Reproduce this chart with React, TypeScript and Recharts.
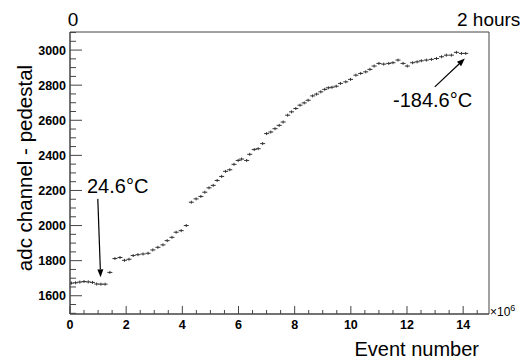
import React from 'react';
import { ScatterChart, Scatter, XAxis, YAxis, ReferenceArea, ReferenceLine } from 'recharts';

// event number in units of 1e6
const eventMillions = [
  0.05, 0.2, 0.35, 0.5, 0.65, 0.8, 0.95, 1.1, 1.25, 1.42, 1.6, 1.78, 1.94, 2.1, 2.25, 2.42, 2.6, 2.78, 2.95,
  3.13, 3.31, 3.46, 3.63, 3.78, 3.96, 4.14, 4.32, 4.49, 4.66, 4.8, 4.95, 5.1, 5.24, 5.4, 5.54, 5.69, 5.84,
  5.99, 6.11, 6.29, 6.4, 6.56, 6.7, 6.86, 7.0, 7.15, 7.3, 7.45, 7.59, 7.75, 7.89, 8.04, 8.19, 8.34, 8.48,
  8.64, 8.78, 8.93, 9.07, 9.2, 9.33, 9.48, 9.63, 9.82, 9.99, 10.18, 10.35, 10.53, 10.68, 10.83, 11.0, 11.17,
  11.35, 11.5, 11.68, 11.86, 12.01, 12.2, 12.36, 12.51, 12.69, 12.87, 13.05, 13.23, 13.4, 13.58, 13.76,
  13.94, 14.09,
];

// adc channel - pedestal
const adcValues = [
  1672, 1674, 1678, 1681, 1679, 1676, 1667, 1666, 1666, 1733, 1812, 1818, 1802, 1808, 1829, 1834, 1838, 1842, 1861,
  1876, 1890, 1914, 1933, 1962, 1971, 2000, 2133, 2152, 2166, 2190, 2215, 2229, 2257, 2280, 2309, 2318, 2349,
  2371, 2379, 2371, 2406, 2433, 2438, 2467, 2524, 2533, 2552, 2571, 2590, 2629, 2648, 2667, 2686, 2699, 2714,
  2739, 2749, 2762, 2776, 2785, 2788, 2794, 2810, 2819, 2833, 2857, 2867, 2876, 2890, 2909, 2924, 2920,
  2924, 2928, 2943, 2924, 2909, 2928, 2933, 2939, 2943, 2947, 2952, 2962, 2971, 2971, 2987,
  2981, 2981,
];

const xTicks = [0, 0.5, 1, 1.5, 2, 2.5, 3, 3.5, 4, 4.5, 5, 5.5, 6, 6.5, 7, 7.5, 8, 8.5, 9, 9.5, 10, 10.5, 11, 11.5, 12, 12.5, 13, 13.5, 14, 14.5];
const yTicks = [1500, 1550, 1600, 1650, 1700, 1750, 1800, 1850, 1900, 1950, 2000, 2050, 2100, 2150, 2200, 2250, 2300, 2350, 2400, 2450, 2500, 2550, 2600, 2650, 2700, 2750, 2800, 2850, 2900, 2950, 3000, 3050, 3100];

// arrow annotations: [tail, head]
const roomTempArrow = [{ x: 0.99, y: 2152 }, { x: 1.09, y: 1705 }];
const coldTempArrow = [{ x: 12.99, y: 2790 }, { x: 14.06, y: 2952 }];

const points = eventMillions.map((x, i) => ({ x, y: adcValues[i] }));

const FONT = '"Liberation Sans", Arial, Helvetica, sans-serif';
const AXIS = '#444';

const YTick = (props: any) => {
  const { x, y, payload } = props;
  const v = payload.value;
  const major = v % 200 === 0;
  return (
    <g>
      <line x1={x} y1={y} x2={x + (major ? 12 : 6)} y2={y} stroke={AXIS} />
      {major && (
        <text x={x - 4} y={y + 4.5} textAnchor="end" fontFamily={FONT} fontWeight="bold" fontSize={12.5} fill="#000">
          {v}
        </text>
      )}
    </g>
  );
};

const XTick = (props: any) => {
  const { x, y, payload } = props;
  const v = payload.value;
  const major = v % 2 === 0;
  return (
    <g>
      <line x1={x} y1={y} x2={x} y2={y - (major ? 8 : 4)} stroke={AXIS} />
      {major && (
        <text x={x} y={y + 15} textAnchor="middle" fontFamily={FONT} fontWeight="bold" fontSize={12.5} fill="#000">
          {v}
        </text>
      )}
    </g>
  );
};

const Cross = (props: any) => {
  const { cx, cy } = props;
  return (
    <g>
      <line x1={cx - 2.5} x2={cx + 2.5} y1={cy} y2={cy} stroke="#333" />
      <line x1={cx} x2={cx} y1={cy - 1.5} y2={cy + 1.5} stroke="#333" />
    </g>
  );
};

const Arrow = (props: any) => {
  const { x1, y1, x2, y2 } = props;
  const ang = Math.atan2(y2 - y1, x2 - x1);
  const len = 8;
  const w = 3;
  const bx = x2 - len * Math.cos(ang);
  const by = y2 - len * Math.sin(ang);
  const px = -Math.sin(ang) * w;
  const py = Math.cos(ang) * w;
  return (
    <g>
      <line x1={x1} y1={y1} x2={bx} y2={by} stroke="#000" strokeWidth={1.2} />
      <polygon points={`${x2},${y2} ${bx + px},${by + py} ${bx - px},${by - py}`} fill="#000" />
    </g>
  );
};

export default function App() {
  return (
    <div style={{ position: 'absolute', left: 0, top: 0, width: 522, height: 361, background: '#fff', overflow: 'hidden' }}>
      <ScatterChart width={522} height={361} margin={{ top: 32, right: 33, left: 0, bottom: 0 }}>
        <XAxis
          type="number"
          dataKey="x"
          domain={[0, 14.92]}
          allowDataOverflow
          ticks={xTicks}
          interval={0}
          tickSize={0}
          tickMargin={0}
          tick={<XTick />}
          axisLine={{ stroke: AXIS }}
          height={47}
        />
        <YAxis
          type="number"
          dataKey="y"
          domain={[1496, 3103]}
          allowDataOverflow
          ticks={yTicks}
          interval={0}
          tickSize={0}
          tickMargin={0}
          tick={<YTick />}
          axisLine={{ stroke: AXIS }}
          width={70}
        />
        <ReferenceArea x1={0} x2={14.92} y1={1496} y2={3103} fill="none" stroke={AXIS} ifOverflow="visible" />
        <Scatter data={points} shape={<Cross />} isAnimationActive={false} />
        <ReferenceLine segment={roomTempArrow} shape={Arrow} ifOverflow="visible" />
        <ReferenceLine segment={coldTempArrow} shape={Arrow} ifOverflow="visible" />
      </ScatterChart>
      <svg
        width={522}
        height={361}
        style={{ position: 'absolute', left: 0, top: 0, pointerEvents: 'none' }}
        fontFamily={FONT}
      >
        <text x={73} y={26} textAnchor="middle" fontSize={19}>0</text>
        <text x={457} y={26} fontSize={19}>2 hours</text>
        <text x={87} y={193} fontSize={20}>24.6°C</text>
        <text x={393} y={107} fontSize={20}>-184.6°C</text>
        <text x={479} y={356} textAnchor="end" fontSize={20}>Event number</text>
        <text x={32} y={168} textAnchor="middle" fontSize={20.5} transform="rotate(-90 32 168)">adc channel - pedestal</text>
        <text x={490} y={316} fontSize={12}>
          ×10<tspan dy={-5} fontSize={9}>6</tspan>
        </text>
      </svg>
    </div>
  );
}
